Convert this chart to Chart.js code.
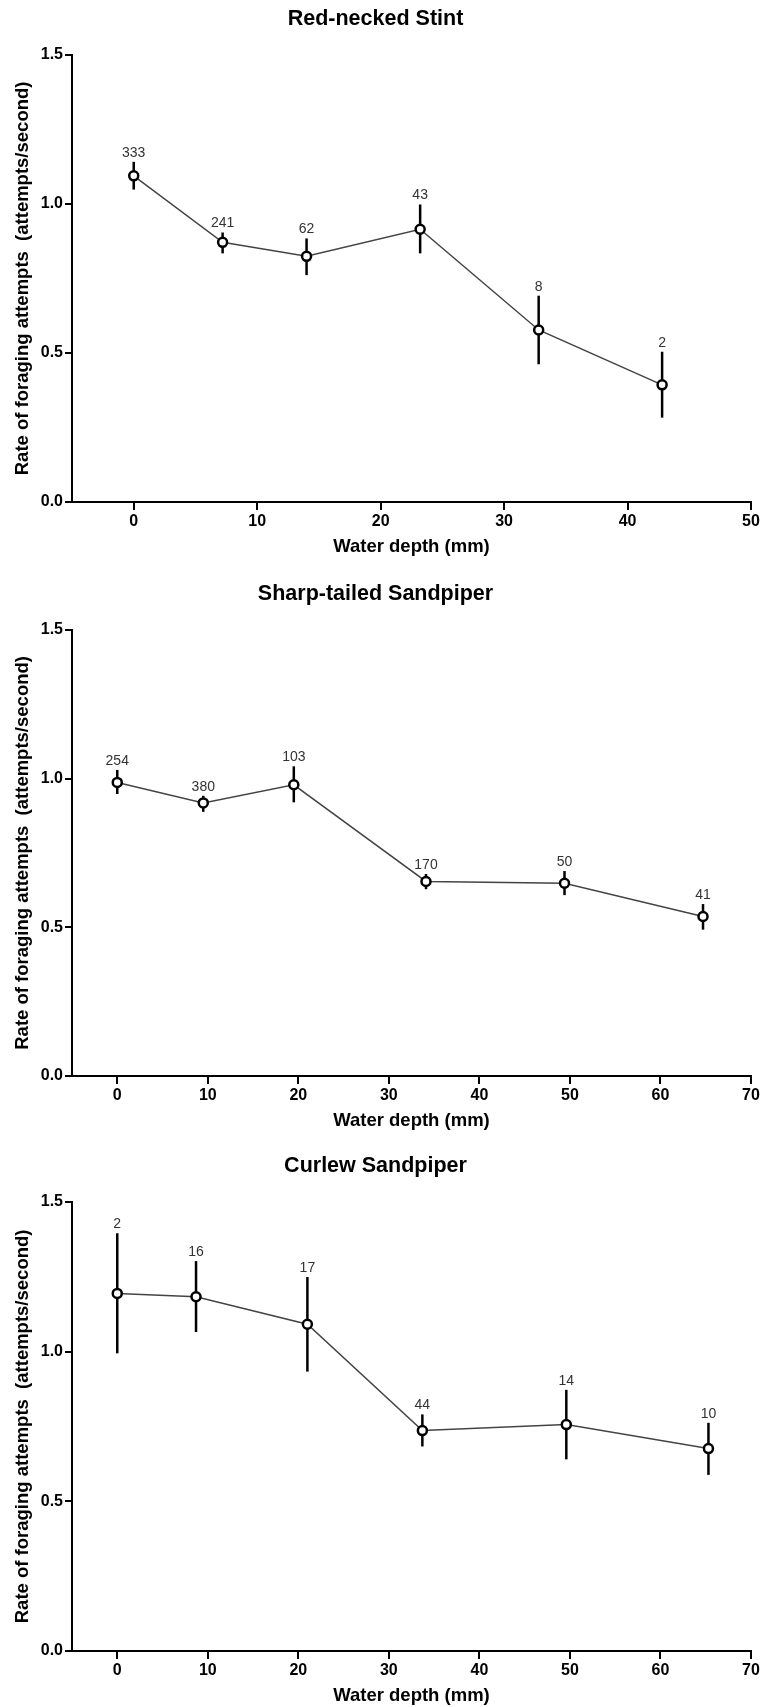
<!DOCTYPE html>
<html lang="en">
<head>
<meta charset="UTF-8">
<title>Foraging rate and water depth</title>
<script src="https://cdn.jsdelivr.net/npm/chart.js@4.4.0/dist/chart.umd.min.js"></script>
<style>
  html, body { margin: 0; padding: 0; background: #fff; overflow: hidden; }
  .panel { position: absolute; left: 0; width: 762px; }
  canvas { display: block; }
</style>
</head>
<body>
<div class="panel" style="top:0px"><canvas id="stintChart" width="762" height="570"></canvas></div>
<div class="panel" style="top:575px"><canvas id="sharpChart" width="762" height="569"></canvas></div>
<div class="panel" style="top:1147px"><canvas id="curlewChart" width="762" height="572"></canvas></div>

<script>
// Red-necked Stint
const stintDepth = [0, 7.2, 14.0, 23.2, 32.8, 42.8];
const stintRate  = [1.094, 0.871, 0.824, 0.915, 0.577, 0.393];
const stintHigh  = [1.141, 0.904, 0.884, 0.998, 0.692, 0.504];
const stintLow   = [1.048, 0.834, 0.761, 0.834, 0.462, 0.283];
const stintN     = [333, 241, 62, 43, 8, 2];

// Sharp-tailed Sandpiper
const sharpDepth = [0, 9.5, 19.5, 34.1, 49.4, 64.7];
const sharpRate  = [0.987, 0.918, 0.979, 0.654, 0.648, 0.536];
const sharpHigh  = [1.029, 0.942, 1.041, 0.679, 0.689, 0.578];
const sharpLow   = [0.948, 0.888, 0.920, 0.628, 0.608, 0.492];
const sharpN     = [254, 380, 103, 170, 50, 41];

// Curlew Sandpiper
const curlewDepth = [0, 8.7, 21.0, 33.7, 49.6, 65.3];
const curlewRate  = [1.194, 1.183, 1.091, 0.736, 0.756, 0.676];
const curlewHigh  = [1.395, 1.302, 1.249, 0.790, 0.872, 0.762];
const curlewLow   = [0.994, 1.065, 0.933, 0.683, 0.640, 0.588];
const curlewN     = [2, 16, 17, 44, 14, 10];

// axis ticks
const yTicks = [0, 0.5, 1.0, 1.5];
const xTicksShort = [0, 10, 20, 30, 40, 50];
const xTicksLong = [0, 10, 20, 30, 40, 50, 60, 70];

const FONT = "'Liberation Sans', Arial, sans-serif";

// vertical error bars under the points, sample sizes above them
const errorBarPlugin = {
    id: 'errorBars',
    beforeDatasetsDraw(chart) {
        const ds = chart.data.datasets[0];
        const xs = chart.scales.x, ys = chart.scales.y, ctx = chart.ctx;
        ctx.save();
        ctx.strokeStyle = '#000';
        ctx.lineWidth = 2.5;
        ds.data.forEach((p, i) => {
            const px = xs.getPixelForValue(p.x);
            ctx.beginPath();
            ctx.moveTo(px, ys.getPixelForValue(ds.high[i]));
            ctx.lineTo(px, ys.getPixelForValue(ds.low[i]));
            ctx.stroke();
        });
        ctx.restore();
    },
    afterDatasetsDraw(chart) {
        const ds = chart.data.datasets[0];
        const xs = chart.scales.x, ys = chart.scales.y, ctx = chart.ctx;
        ctx.save();
        ctx.fillStyle = '#333';
        ctx.font = '14px ' + FONT;
        ctx.textAlign = 'center';
        ctx.textBaseline = 'middle';
        ds.data.forEach((p, i) => {
            const px = xs.getPixelForValue(p.x);
            ctx.fillText(String(ds.counts[i]), px, ys.getPixelForValue(ds.high[i]) - 9);
        });
        ctx.restore();
    }
};

function buildChart(canvasId, title, depth, rate, high, low, counts, xTicks) {
    return new Chart(document.getElementById(canvasId), {
        type: 'scatter',
        data: {
            datasets: [{
                data: depth.map((d, i) => ({ x: d, y: rate[i] })),
                high: high,
                low: low,
                counts: counts,
                showLine: true,
                borderColor: '#444',
                borderWidth: 1.5,
                pointRadius: 4.5,
                pointBorderWidth: 2.5,
                pointBorderColor: '#000',
                pointBackgroundColor: '#fff'
            }]
        },
        options: {
            responsive: false,
            animation: false,
            devicePixelRatio: 1,
            layout: { padding: { left: 0, right: 11, top: 0, bottom: 0 } },
            plugins: {
                legend: { display: false },
                tooltip: { enabled: false },
                title: {
                    display: true,
                    text: title,
                    color: '#000',
                    font: { family: FONT, size: 21.5, weight: 'bold' },
                    padding: { top: 6, bottom: 23 }
                }
            },
            scales: {
                x: {
                    type: 'linear',
                    min: -5,
                    max: xTicks[xTicks.length - 1],
                    afterBuildTicks: s => { s.ticks = xTicks.map(v => ({ value: v })); },
                    afterFit: s => { s.height = 68; },
                    ticks: {
                        color: '#000',
                        font: { family: FONT, size: 16, weight: 'bold' },
                        padding: 2,
                        maxRotation: 0
                    },
                    grid: { display: true, drawOnChartArea: false, drawTicks: true, tickLength: 8, color: '#000', lineWidth: 2 },
                    border: { display: true, color: '#000', width: 2 },
                    title: {
                        display: true,
                        text: 'Water depth (mm)',
                        color: '#000',
                        font: { family: FONT, size: 18.5, weight: 'bold' },
                        padding: { top: 0, bottom: 12 }
                    }
                },
                y: {
                    min: 0,
                    max: 1.5,
                    afterBuildTicks: s => { s.ticks = yTicks.map(v => ({ value: v })); },
                    afterFit: s => { s.width = 72; },
                    ticks: {
                        color: '#000',
                        font: { family: FONT, size: 16, weight: 'bold' },
                        padding: 2,
                        callback: v => v.toFixed(1)
                    },
                    grid: { display: true, drawOnChartArea: false, drawTicks: true, tickLength: 7, color: '#000', lineWidth: 2 },
                    border: { display: true, color: '#000', width: 2 },
                    title: {
                        display: true,
                        text: 'Rate of foraging attempts  (attempts/second)',
                        color: '#000',
                        font: { family: FONT, size: 18.5, weight: 'bold' },
                        padding: { top: 12, bottom: 0 }
                    }
                }
            }
        },
        plugins: [errorBarPlugin]
    });
}

buildChart('stintChart', 'Red-necked Stint', stintDepth, stintRate, stintHigh, stintLow, stintN, xTicksShort);
buildChart('sharpChart', 'Sharp-tailed Sandpiper', sharpDepth, sharpRate, sharpHigh, sharpLow, sharpN, xTicksLong);
buildChart('curlewChart', 'Curlew Sandpiper', curlewDepth, curlewRate, curlewHigh, curlewLow, curlewN, xTicksLong);
</script>
</body>
</html>
